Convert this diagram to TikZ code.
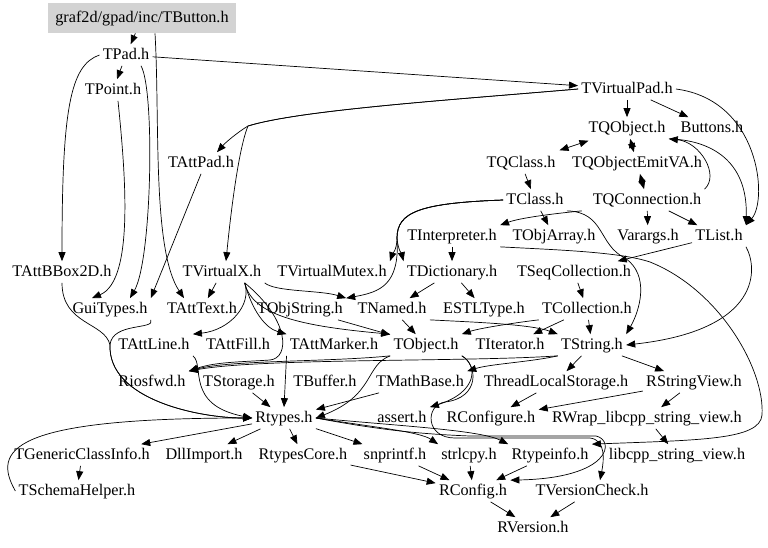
\documentclass[tikz,border=0pt]{standalone}
\usepackage{fontspec}
\setmainfont{Liberation Serif}
\usetikzlibrary{arrows.meta}
\definecolor{rootgray}{HTML}{D3D3D3}
\begin{document}
\begin{tikzpicture}[x=1pt, y=-1pt, >={Triangle[length=9pt,width=7pt]}, line width=0.7pt]
	\tikzset{
		file/.style={inner sep=3pt, text height=11.5pt, text depth=3.5pt, font=\fontsize{16.2}{19}\selectfont},
		rootfile/.style={file, fill=rootgray, minimum width=188pt, minimum height=30pt},
	}
	\useasboundingbox (0,0) rectangle (768,547);
	\node[rootfile] (btn) at (142,18) {graf2d/gpad/inc/TButton.h};
	\node[file] (tpad) at (126,55) {TPad.h};
	\node[file] (tpoint) at (113,90) {TPoint.h};
	\node[file] (tvpad) at (627,89) {TVirtualPad.h};
	\node[file] (tqobj) at (627,128) {TQObject.h};
	\node[file] (buttons) at (712,128) {Buttons.h};
	\node[file] (tattpad) at (201,163) {TAttPad.h};
	\node[file] (tqclass) at (521,163) {TQClass.h};
	\node[file] (tqemit) at (637,163) {TQObjectEmitVA.h};
	\node[file] (tclass) at (535,200) {TClass.h};
	\node[file] (tqconn) at (647,200) {TQConnection.h};
	\node[file] (tinterp) at (452,236) {TInterpreter.h};
	\node[file] (tobjarr) at (554,236) {TObjArray.h};
	\node[file] (varargs) at (648,236) {Varargs.h};
	\node[file] (tlist) at (719,236) {TList.h};
	\node[file] (tbbox) at (62,272) {TAttBBox2D.h};
	\node[file] (tvx) at (222,272) {TVirtualX.h};
	\node[file] (tvmutex) at (332,272) {TVirtualMutex.h};
	\node[file] (tdict) at (452,272) {TDictionary.h};
	\node[file] (tseqcol) at (574,272) {TSeqCollection.h};
	\node[file] (guitypes) at (110,309) {GuiTypes.h};
	\node[file] (tatttext) at (202,309) {TAttText.h};
	\node[file] (tobjstr) at (300,309) {TObjString.h};
	\node[file] (tnamed) at (392,309) {TNamed.h};
	\node[file] (estl) at (484,309) {ESTLType.h};
	\node[file] (tcoll) at (587,309) {TCollection.h};
	\node[file] (tattline) at (154,345) {TAttLine.h};
	\node[file] (tattfill) at (238,345) {TAttFill.h};
	\node[file] (tattmark) at (334,345) {TAttMarker.h};
	\node[file] (tobject) at (426,345) {TObject.h};
	\node[file] (titer) at (510,345) {TIterator.h};
	\node[file] (tstring) at (592,345) {TString.h};
	\node[file] (riosfwd) at (152,382) {Riosfwd.h};
	\node[file] (tstorage) at (239,382) {TStorage.h};
	\node[file] (tbuffer) at (325,382) {TBuffer.h};
	\node[file] (tmathbase) at (420,382) {TMathBase.h};
	\node[file] (tls) at (556,382) {ThreadLocalStorage.h};
	\node[file] (rsv) at (694,382) {RStringView.h};
	\node[file] (rtypes) at (284,418) {Rtypes.h};
	\node[file] (assert) at (402,418) {assert.h};
	\node[file] (rconfigure) at (491,418) {RConfigure.h};
	\node[file] (rwrap) at (647,418) {RWrap\_libcpp\_string\_view.h};
	\node[file] (tgci) at (82,455) {TGenericClassInfo.h};
	\node[file] (dllimport) at (204,455) {DllImport.h};
	\node[file] (rtypescore) at (303,455) {RtypesCore.h};
	\node[file] (snprintf) at (395,455) {snprintf.h};
	\node[file] (strlcpy) at (469,455) {strlcpy.h};
	\node[file] (rtypeinfo) at (550,455) {Rtypeinfo.h};
	\node[file] (libcpp) at (677,455) {libcpp\_string\_view.h};
	\node[file] (tschema) at (77,491) {TSchemaHelper.h};
	\node[file] (rconfig) at (473,491) {RConfig.h};
	\node[file] (tvcheck) at (592,491) {TVersionCheck.h};
	\node[file] (rversion) at (533,528) {RVersion.h};
	\foreach \a/\b in {btn/tpad, tpad/tpoint, tpad/tvpad, tvpad/tqobj, tvpad/buttons, tqclass/tclass,
			tqconn/varargs, tqconn/tlist, tclass/tobjarr, tinterp/tdict, tlist/tseqcol, tseqcol/tcoll,
			tdict/tnamed, tdict/estl, tcoll/tstring, tcoll/titer, tnamed/tobject, tobjstr/tobject,
			tvx/tatttext, tstorage/rtypes, tmathbase/rtypes, tstring/tls, tstring/rsv, tls/rconfigure,
			rsv/rconfigure, rsv/rwrap, rwrap/libcpp, rtypes/tgci, rtypes/dllimport, rtypes/rtypescore,
			rtypes/snprintf, tgci/tschema, snprintf/rconfig, rtypescore/rconfig, strlcpy/rconfig,
			rtypeinfo/rconfig, rconfig/rversion, tvcheck/rversion}
		{
			\draw[->] (\a) -- (\b);
		}
	\foreach \a/\b in {tqobj/tqemit, tqemit/tqconn}
		{
			\draw[<->] (\a) -- (\b);
		}
	\draw[<->, shorten <=6pt, shorten >=6pt] (tqobj) -- (tqclass);
	\draw[->] (tattpad.south) -- (guitypes.north east);
	\draw[->] (tattmark.south west) -- (rtypes.north);
	\draw[->] ([xshift=13pt]btn.south) .. controls (160,120) and (152,250) .. ([xshift=-18pt]tatttext.north);
	\draw[->] (tpad.west) .. controls (70,65) and (62,110) .. (tbbox.north);
	\draw[->] ([xshift=15pt]tpad.south) .. controls (155,90) and (152,260) .. ([xshift=20pt]guitypes.north);
	\draw[->] ([xshift=5pt]tpoint.south) .. controls (125,170) and (135,280) .. ([xshift=-18pt]guitypes.north);
	\draw[->] (tvpad.west) .. controls (450,100) and (300,110) .. (248,126)
		.. controls (238,132) and (226,142) .. ([xshift=16pt]tattpad.north);
	\draw[->] (tvpad.west) .. controls (450,100) and (300,110) .. (248,126)
		.. controls (238,150) and (230,220) .. ([xshift=4pt]tvx.north);
	\draw[->] (tvpad.east) .. controls (760,100) and (768,200) .. (tlist.north east);
	\draw[->] (tqconn.north east) .. controls (720,175) and (700,142) .. (tqobj.south east);
	\draw[->] (tqobj.south east) .. controls (710,140) and (748,160) .. (tlist.north east);
	\draw[->] ([xshift=15pt]tclass.south east) .. controls (550,214) and (520,218) .. (tinterp.north east);
	\draw[->] (tclass.south east) .. controls (605,212) and (598,245) .. (625,258)
		.. controls (650,275) and (640,310) .. (tstring.north east);
	\draw[->] (tclass.west) .. controls (420,203) and (397,212) .. (397,238)
		.. controls (397,250) and (392,255) .. (tvmutex.north east);
	\draw[->] (tclass.west) .. controls (420,203) and (397,212) .. (397,238)
		.. controls (398,250) and (402,255) .. (tdict.north west);
	\draw[->] (tclass.west) .. controls (420,203) and (397,212) .. (397,238)
		.. controls (400,285) and (380,292) .. (tobjstr.north east);
	\draw[->] (tvx.south east) .. controls (275,292) and (320,290) .. (tobjstr.north east);
	\draw[->] ([xshift=-20pt]tvx.south east) .. controls (252,305) and (230,330) .. (tattline.north east);
	\draw[->] ([xshift=-20pt]tvx.south east) .. controls (252,310) and (265,328) .. (tattmark.north west);
	\draw[->] ([xshift=-20pt]tvx.south east) .. controls (252,315) and (300,326) .. (tobject.north west);
	\draw[->] ([xshift=-20pt]tvx.south east) .. controls (290,320) and (290,358) .. (270,360)
		.. controls (240,362) and (215,362) .. (riosfwd.north east);
	\draw[->] (tobject.south west) .. controls (330,362) and (230,360) .. (riosfwd.north east);
	\draw[->] (tstring.south west) .. controls (470,362) and (260,358) .. (riosfwd.north east);
	\draw[->] (tstring.south west) .. controls (530,362) and (490,364) .. (tmathbase.north east);
	\draw[->] (tnamed.south east) .. controls (470,322) and (530,324) .. (tstring.north west);
	\draw[->] (tcoll.south west) .. controls (520,322) and (480,328) .. (tobject.north east);
	\draw[->] (tlist.south east) .. controls (758,268) and (762,330) .. (tstring.east);
	\draw[->] (tinterp.south east) .. controls (560,250) and (620,252) .. (650,262)
		.. controls (720,290) and (765,370) .. (762,415)
		.. controls (760,440) and (700,440) .. (rtypeinfo.north east);
	\draw[->] (guitypes.south east) .. controls (156,330) and (112,322) .. (110,345)
		.. controls (108,400) and (200,418) .. (rtypes.west);
	\draw[->] (tbbox.south) .. controls (62,325) and (105,322) .. (110,345)
		.. controls (108,400) and (200,418) .. (rtypes.west);
	\draw[->] (tschema.west) .. controls (-8,450) and (10,418) .. (rtypes.west);
	\draw[->] (tattline.south east) .. controls (205,365) and (185,405) .. (rtypes.west);
	\draw[->] (tobject.south west) .. controls (365,365) and (375,395) .. (rtypes.east);
	\draw[->] (tobject.south east) .. controls (478,365) and (478,392) .. (assert.north east);
	\draw[->] (tobject.south east) .. controls (478,365) and (480,398) .. (445,402)
		.. controls (425,405) and (425,438) .. (455,438) -- (590,438)
		.. controls (606,440) and (604,460) .. ([xshift=8pt]tvcheck.north);
	\draw[->] (rtypes.east) .. controls (380,430) and (420,434) .. (470,436) -- (596,436)
		.. controls (615,440) and (612,478) .. (rconfig.north east);
	\draw[->] (rtypes.east) .. controls (380,428) and (420,432) .. (strlcpy.north west);
	\draw[->] (rtypes.east) .. controls (400,426) and (480,430) .. (rtypeinfo.north west);
\end{tikzpicture}
\end{document}
